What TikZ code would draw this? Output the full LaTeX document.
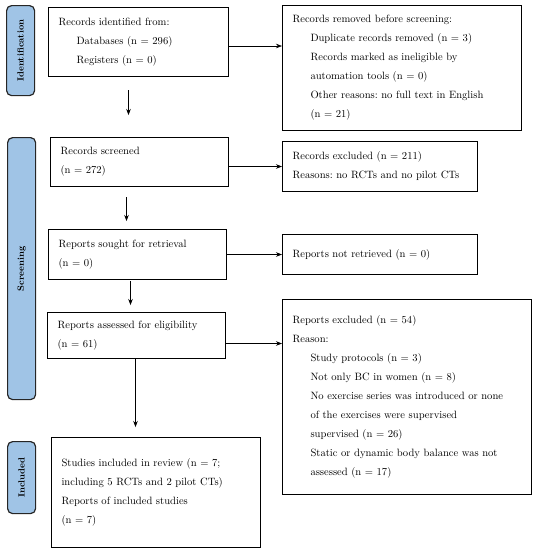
\documentclass[tikz,border=0pt]{standalone}
\usetikzlibrary{arrows.meta}
\definecolor{stageblue}{RGB}{160,196,230}
\newcommand{\ind}{\hspace*{18pt}}
\frenchspacing
\begin{document}
\begin{tikzpicture}[x=1pt, y=-1pt,
        stage/.style={draw=black!85, line width=1.2pt, fill=stageblue, rounded corners=5pt,
            anchor=north west, inner sep=0pt},
        stagetext/.style={rotate=90, font=\bfseries\fontsize{9}{10}\selectfont},
        box/.style={draw, line width=1pt, anchor=north west, align=left, inner xsep=10pt,
            inner ysep=0pt, font=\fontsize{10.6}{19}\selectfont},
        arr/.style={-{Stealth[length=6pt,width=4.5pt]}, line width=0.6pt}]
    \useasboundingbox (0,0) rectangle (534,550);
    % stage labels
    \node[stage, minimum width=28, minimum height=90] (idlab) at (6,5) {};
    \node[stagetext] at (idlab.center) {Identification};
    \node[stage, minimum width=28, minimum height=262] (scrlab) at (7,137) {};
    \node[stagetext] at (scrlab.center) {Screening};
    \node[stage, minimum width=28, minimum height=72] (inclab) at (7,441) {};
    \node[stagetext] at (inclab.center) {Included};

    % left column
    \node[box, text width=160, minimum height=69] (records) at (48,7)
        {Records identified from:\\ \ind Databases (n = 296)\\ \ind Registers (n = 0)};
    \node[box, text width=158, minimum height=49] (screened) at (50,137)
        {Records screened\\ (n = 272)};
    \node[box, text width=158, minimum height=50] (sought) at (48,229)
        {Reports sought for retrieval\\ (n = 0)};
    \node[box, text width=158, minimum height=46] (assessed) at (47,312)
        {Reports assessed for eligibility\\ (n = 61)};
    \node[box, text width=189, minimum height=110] (included) at (51,437)
        {Studies included in review (n = 7;\\ including 5 RCTs and 2 pilot CTs)\\
         Reports of included studies\\ (n = 7)};

    % right column
    \node[box, text width=219, minimum height=125] (removed) at (282,5)
        {Records removed before screening:\\ \ind Duplicate records removed (n = 3)\\
         \ind Records marked as ineligible by\\ \ind automation tools (n = 0)\\
         \ind Other reasons: no full text in English\\ \ind (n = 21)};
    \node[box, text width=175, minimum height=50] (excluded) at (282,141)
        {Records excluded (n = 211)\\ Reasons: no RCTs and no pilot CTs};
    \node[box, text width=175, minimum height=40] (notretr) at (282,234)
        {Reports not retrieved (n = 0)};
    \node[box, text width=229, minimum height=195] (repexcl) at (282,299)
        {Reports excluded (n = 54)\\ Reason:\\ \ind Study protocols (n = 3)\\
         \ind Not only BC in women (n = 8)\\ \ind No exercise series was introduced or none\\
         \ind of the exercises were supervised\\ \ind supervised (n = 26)\\
         \ind Static or dynamic body balance was not\\ \ind assessed (n = 17)};

    % horizontal connectors
    \draw[arr] ([yshift=-4pt]records.east) -- ([yshift=-4pt]records.east -| removed.west);
    \draw[arr] (excluded.west -| screened.east) -- (excluded.west);
    \draw[arr] (sought.east) -- (sought.east -| notretr.west);
    \draw[arr] ([yshift=-8pt]assessed.east) -- ([yshift=-8pt]assessed.east -| repexcl.west);

    % vertical connectors
    \draw[arr] ([shift={(-10,13)}]records.south) -- ([shift={(-10,-22)}]records.south |- screened.north);
    \draw[arr] ([shift={(-13,10)}]screened.south) -- ([shift={(-13,-8)}]screened.south |- sought.north);
    \draw[arr] ([shift={(-7,1)}]sought.south) -- ([shift={(-7,-7)}]sought.south |- assessed.north);
    \draw[arr] ([xshift=-1pt]assessed.south) -- ([shift={(-1,-10)}]assessed.south |- included.north);
\end{tikzpicture}
\end{document}
